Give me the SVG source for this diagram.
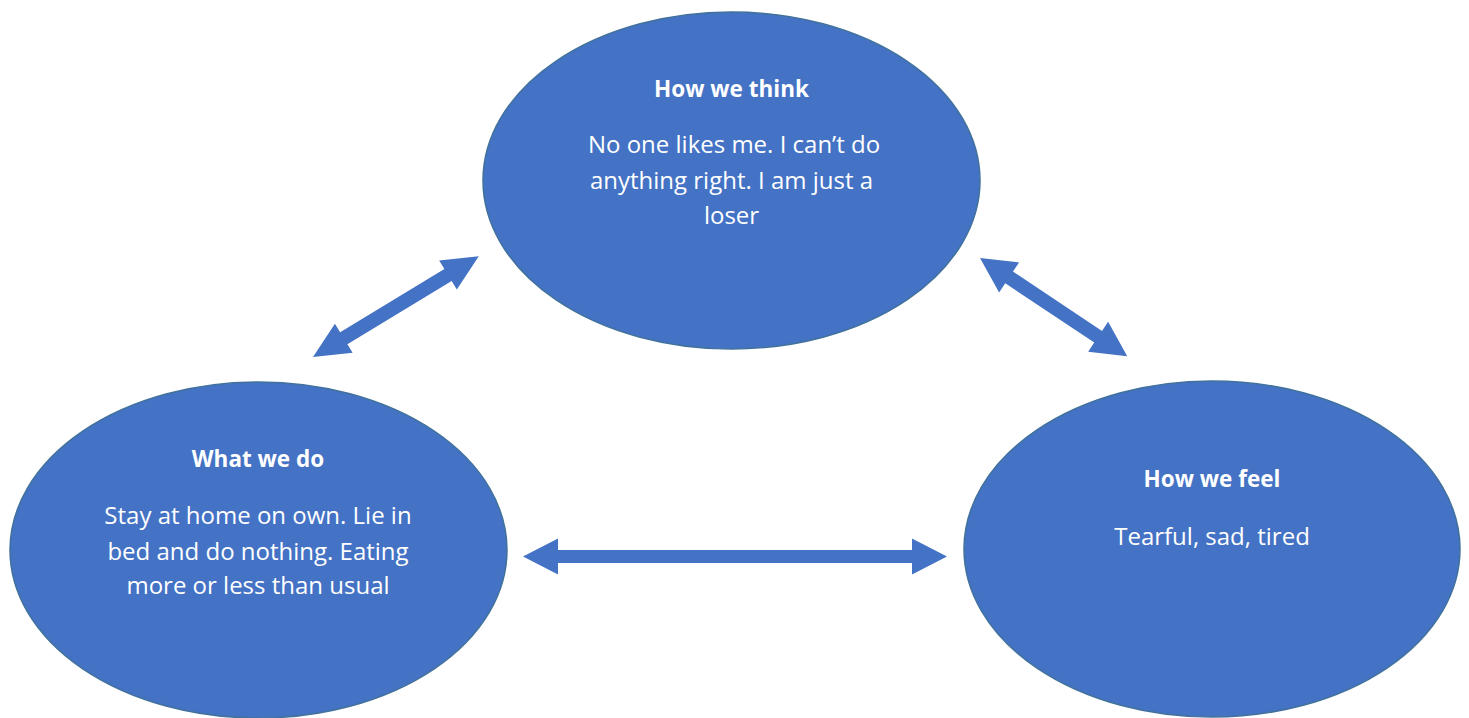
<svg xmlns="http://www.w3.org/2000/svg" width="1469" height="718" viewBox="0 0 1469 718">
<style>
.node ellipse { fill: #4472C4; stroke: #41719C; stroke-width: 1.5; }
.title { font-family: "Open Sans", "Noto Sans", sans-serif; font-weight: bold; font-size: 22.5px; fill: #FFFFFF; text-anchor: middle; }
.body { font-family: "Open Sans", "Noto Sans", sans-serif; font-size: 24px; fill: #FFFFFF; text-anchor: middle; }
.arrow { fill: #4472C4; }
</style>
<rect width="1469" height="718" fill="#FFFFFF"/>
<g id="connectors">
  <polygon class="arrow" transform="translate(313,357) rotate(-31.3)" points="0,0 36,-17 36,-7 158,-7 158,-17 194,0 158,17 158,7 36,7 36,17"/>
  <polygon class="arrow" transform="translate(980,258) rotate(33.7)" points="0,0 35,-18 35,-7 142,-7 142,-18 177,0 142,18 142,7 35,7 35,18"/>
  <polygon class="arrow" transform="translate(523,556.5)" points="0,0 35,-18 35,-6.5 389,-6.5 389,-18 424,0 389,18 389,6.5 35,6.5 35,18"/>
</g>
<g id="node-think" class="node">
  <ellipse cx="731.5" cy="180.5" rx="248.5" ry="168.5"/>
  <text class="title" x="731.5" y="97">How we think</text>
  <text class="body" x="734" y="153">No one likes me. I can’t do</text>
  <text class="body" x="731.5" y="189">anything right. I am just a</text>
  <text class="body" x="731.5" y="224">loser</text>
</g>
<g id="node-do" class="node">
  <ellipse cx="258.5" cy="550" rx="248.5" ry="168"/>
  <text class="title" x="258" y="467">What we do</text>
  <text class="body" x="258" y="524">Stay at home on own. Lie in</text>
  <text class="body" x="258" y="560">bed and do nothing. Eating</text>
  <text class="body" x="258" y="594">more or less than usual</text>
</g>
<g id="node-feel" class="node">
  <ellipse cx="1212" cy="549" rx="248" ry="168"/>
  <text class="title" x="1212" y="487">How we feel</text>
  <text class="body" x="1212" y="545">Tearful, sad, tired</text>
</g>
</svg>
